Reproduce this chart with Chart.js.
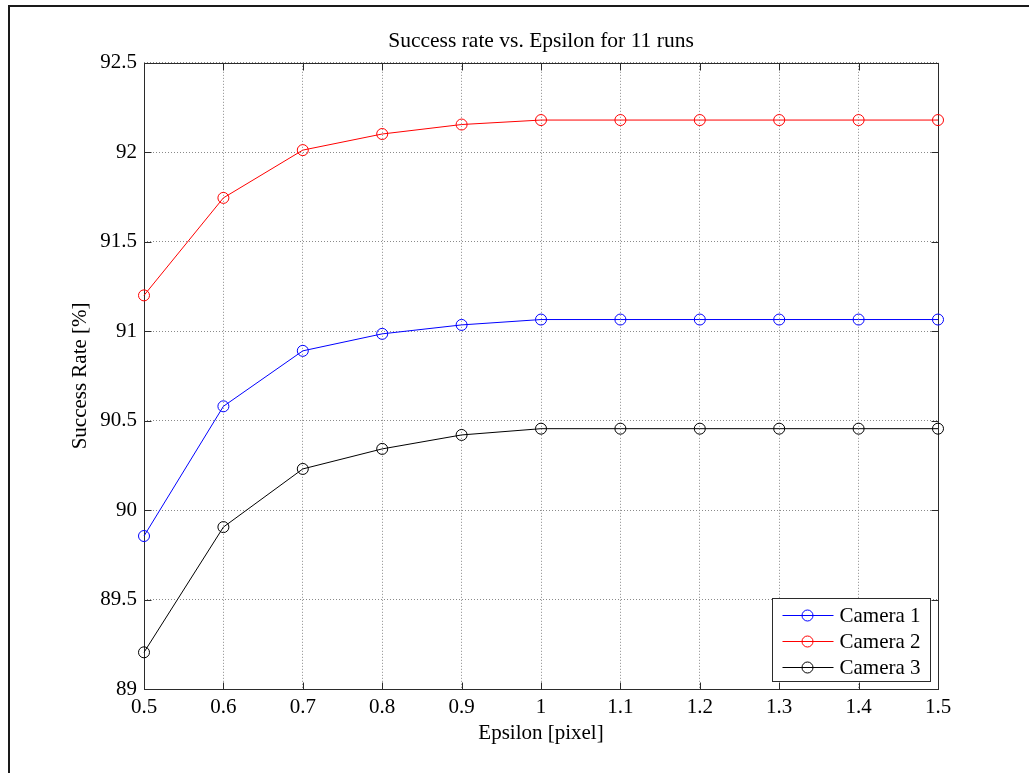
<!DOCTYPE html>
<html>
<head>
<meta charset="utf-8">
<title>Success rate vs. Epsilon</title>
<script src="https://cdn.jsdelivr.net/npm/chart.js@4.4.1/dist/chart.umd.min.js"></script>
<style>
  html, body { margin: 0; padding: 0; background: #fff; overflow: hidden; }
  #frame { position: absolute; left: 8px; top: 5px; width: 1100px; height: 900px; border: 2px solid #1a1a1a; }
  #myChart { position: absolute; left: 0; top: 0; }
</style>
</head>
<body>
<div id="frame"></div>
<canvas id="myChart" width="1029" height="773"></canvas>
<script>
// epsilon values on the x axis
const epsilon = [0.5, 0.6, 0.7, 0.8, 0.9, 1.0, 1.1, 1.2, 1.3, 1.4, 1.5];

// success rate [%] per camera
const camera1 = [89.855, 90.58, 90.89, 90.985, 91.035, 91.065, 91.065, 91.065, 91.065, 91.065, 91.065];
const camera2 = [91.2, 91.745, 92.012, 92.102, 92.155, 92.18, 92.18, 92.18, 92.18, 92.18, 92.18];
const camera3 = [89.205, 89.905, 90.23, 90.342, 90.42, 90.455, 90.455, 90.455, 90.455, 90.455, 90.455];

const seriesNames = ['Camera 1', 'Camera 2', 'Camera 3'];
const seriesColors = ['#0000ff', '#ff0000', '#000000'];

const SERIF = "'Liberation Serif', 'Times New Roman', serif";
Chart.defaults.font.family = SERIF;
Chart.defaults.color = '#000';

const fmt = v => String(+Number(v).toFixed(1));

const toPoints = vals => vals.map((v, i) => ({ x: epsilon[i], y: v }));

// box round the axes with inward tick marks on all four sides
const frameAndTicks = {
  id: 'frameAndTicks',
  beforeDatasetsDraw(chart) {
    const { ctx, chartArea: a, scales: { x, y } } = chart;
    const L = Math.round(a.left) + 0.5, R = Math.round(a.right) + 0.5;
    const T = Math.round(a.top) + 0.5, B = Math.round(a.bottom) + 0.5;
    const len = 7;
    ctx.save();
    ctx.strokeStyle = '#2b2b2b';
    ctx.lineWidth = 1;
    ctx.beginPath();
    x.ticks.forEach(t => {
      const px = Math.round(x.getPixelForValue(t.value)) + 0.5;
      ctx.moveTo(px, B); ctx.lineTo(px, B - len);
      ctx.moveTo(px, T); ctx.lineTo(px, T + len);
    });
    y.ticks.forEach(t => {
      const py = Math.round(y.getPixelForValue(t.value)) + 0.5;
      ctx.moveTo(L, py); ctx.lineTo(L + len, py);
      ctx.moveTo(R, py); ctx.lineTo(R - len, py);
    });
    ctx.stroke();
    ctx.strokeRect(L, T, R - L, B - T);
    ctx.restore();
  }
};

// legend box in the lower right corner of the plot
const cornerLegend = {
  id: 'cornerLegend',
  afterDatasetsDraw(chart) {
    const { ctx, chartArea: a } = chart;
    const w = 158, h = 83;
    const bx = Math.round(a.right) - 8 - w + 0.5;
    const by = Math.round(a.bottom) - 8 - h + 0.5;
    ctx.save();
    ctx.fillStyle = '#fff';
    ctx.fillRect(bx, by, w, h);
    ctx.strokeStyle = '#2b2b2b';
    ctx.lineWidth = 1;
    ctx.strokeRect(bx, by, w, h);
    ctx.font = '21px ' + SERIF;
    ctx.textBaseline = 'middle';
    chart.data.datasets.forEach((ds, i) => {
      const cy = Math.round(by + 16 + i * 26) + 0.5;
      ctx.strokeStyle = ds.borderColor;
      ctx.beginPath();
      ctx.moveTo(bx + 10, cy); ctx.lineTo(bx + 61, cy);
      ctx.stroke();
      ctx.beginPath();
      ctx.arc(bx + 35, cy, 5.5, 0, Math.PI * 2);
      ctx.stroke();
      ctx.fillStyle = '#000';
      ctx.fillText(ds.label, bx + 67, cy + 1);
    });
    ctx.restore();
  }
};

const makeSet = (vals, i) => ({
  label: seriesNames[i],
  data: toPoints(vals),
  borderColor: seriesColors[i],
  backgroundColor: 'rgba(0,0,0,0)',
  borderWidth: 1,
  pointStyle: 'circle',
  pointRadius: 5.5,
  pointHoverRadius: 5.5,
  pointBorderWidth: 1,
  pointBorderColor: seriesColors[i],
  pointBackgroundColor: 'rgba(0,0,0,0)',
  tension: 0,
  clip: false
});

const ctx = document.getElementById('myChart').getContext('2d');
const myChart = new Chart(ctx, {
  type: 'line',
  data: {
    datasets: [makeSet(camera1, 0), makeSet(camera2, 1), makeSet(camera3, 2)]
  },
  options: {
    responsive: false,
    animation: false,
    events: [],
    layout: { padding: { left: 50, right: 91, top: 0, bottom: 24 } },
    plugins: {
      legend: { display: false },
      tooltip: { enabled: false },
      title: {
        display: true,
        fullSize: false,
        text: 'Success rate vs. Epsilon for 11 runs',
        color: '#000',
        font: { family: SERIF, size: 21.5, weight: 'normal' },
        padding: { top: 28, bottom: 9 }
      }
    },
    scales: {
      x: {
        type: 'linear',
        min: 0.5,
        max: 1.5,
        afterFit(scale) { scale.height = 60; },
        ticks: {
          stepSize: 0.1,
          padding: 6,
          maxRotation: 0,
          color: '#000',
          font: { family: SERIF, size: 21 },
          callback: fmt
        },
        grid: { color: '#8a8a8a', lineWidth: 1, drawTicks: false },
        border: { display: false, dash: [1, 2] },
        title: {
          display: true,
          text: 'Epsilon [pixel]',
          color: '#000',
          font: { family: SERIF, size: 21 },
          padding: { top: 0, bottom: 2.5 }
        }
      },
      y: {
        min: 89,
        max: 92.5,
        afterFit(scale) { scale.width = 94; },
        ticks: {
          stepSize: 0.5,
          padding: 7,
          color: '#000',
          font: { family: SERIF, size: 21 },
          callback: fmt
        },
        grid: { color: '#8a8a8a', lineWidth: 1, drawTicks: false },
        border: { display: false, dash: [1, 2] },
        title: {
          display: true,
          text: 'Success Rate [%]',
          color: '#000',
          font: { family: SERIF, size: 21 },
          padding: { top: 18, bottom: 0 }
        }
      }
    }
  },
  plugins: [frameAndTicks, cornerLegend]
});
</script>
</body>
</html>
